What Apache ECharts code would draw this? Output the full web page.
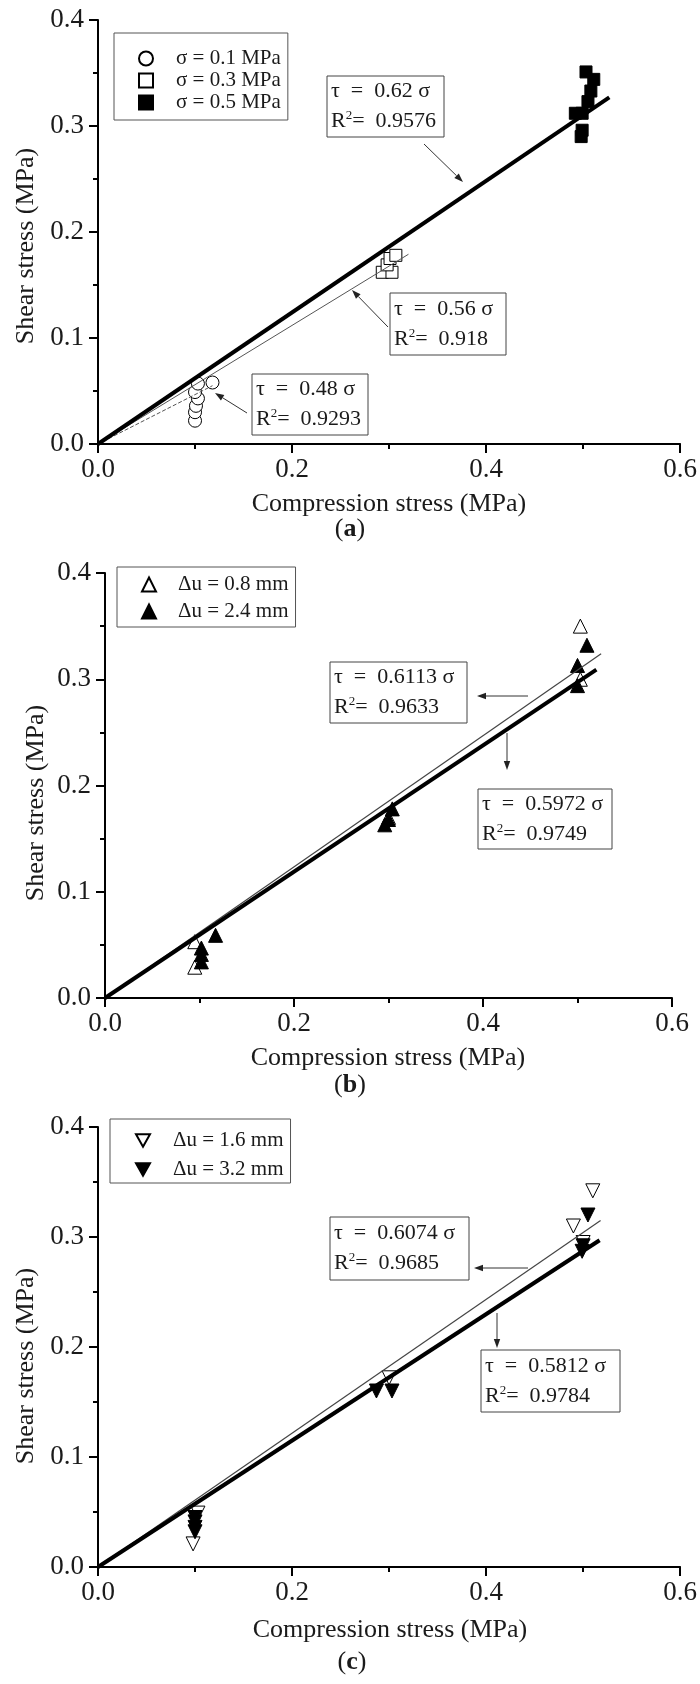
<!DOCTYPE html>
<html><head><meta charset="utf-8">
<script src="https://cdn.jsdelivr.net/npm/echarts@6/dist/echarts.min.js"></script>
<style>html,body{margin:0;padding:0;background:#fff}#c{width:700px;height:1684px}</style>
</head><body><div id="c"></div>
<script>
// ---------- data ----------
const xTickLabels = ['0.0','0.2','0.4','0.6'];
const yTickLabels = ['0.0','0.1','0.2','0.3','0.4'];

// panel (a)
const sigma01 = [[0.1,0.022],[0.1,0.03],[0.101,0.036],[0.103,0.043],[0.1,0.049],[0.103,0.057],[0.118,0.058]];
const sigma03 = [[0.293,0.162],[0.303,0.162],[0.298,0.169],[0.301,0.175],[0.307,0.178]];
const sigma05 = [[0.503,0.351],[0.511,0.344],[0.508,0.333],[0.505,0.323],[0.492,0.312],[0.499,0.312],[0.499,0.296],[0.498,0.29]];
const fitA062 = [[0,0],[0.527,0.327]];
const fitA056 = [[0,0],[0.32,0.179]];
const fitA048 = [[0,0],[0.118,0.055]];

// panel (b)
const du08 = [[0.095,0.029],[0.095,0.053],[0.3,0.17],[0.503,0.3],[0.503,0.35]];
const du24 = [[0.102,0.034],[0.102,0.041],[0.102,0.047],[0.117,0.059],[0.296,0.163],[0.3,0.168],[0.304,0.178],[0.5,0.294],[0.5,0.313],[0.51,0.332]];
const fitB6113 = [[0,0],[0.525,0.324]];
const fitB5972 = [[0,0],[0.52,0.309]];

// panel (c)
const du16 = [[0.098,0.021],[0.103,0.049],[0.3,0.172],[0.49,0.31],[0.5,0.295],[0.51,0.342]];
const du32 = [[0.1,0.032],[0.1,0.036],[0.1,0.041],[0.1,0.045],[0.287,0.16],[0.303,0.16],[0.499,0.287],[0.5,0.292],[0.505,0.32]];
const fitC6074 = [[0,0],[0.518,0.315]];
const fitC5812 = [[0,0],[0.517,0.297]];

// ---------- chart ----------
const SERIF = '"Liberation Serif","Times New Roman",serif';
const TXT = '#1a1a1a';
const downTri = 'path://M0,0 L10,0 L5,9 Z';

function xAx(i){
  return {type:'value', gridIndex:i, min:0, max:0.6, interval:0.2,
    axisLine:{onZero:false, lineStyle:{color:'#000', width:2}},
    axisTick:{show:true, inside:false, length:9, lineStyle:{color:'#000', width:2}},
    minorTick:{show:true, splitNumber:2, length:5, lineStyle:{color:'#000', width:2}},
    splitLine:{show:false}, minorSplitLine:{show:false},
    axisLabel:{fontFamily:SERIF, fontSize:27, color:TXT, margin:12,
      formatter:v=>xTickLabels[Math.round(v/0.2)]}};
}
function yAx(i){
  return {type:'value', gridIndex:i, min:0, max:0.4, interval:0.1,
    axisLine:{onZero:false, lineStyle:{color:'#000', width:2}},
    axisTick:{show:true, inside:false, length:9, lineStyle:{color:'#000', width:2}},
    minorTick:{show:true, splitNumber:2, length:5, lineStyle:{color:'#000', width:2}},
    splitLine:{show:false}, minorSplitLine:{show:false},
    axisLabel:{fontFamily:SERIF, fontSize:27, color:TXT, margin:14,
      formatter:v=>yTickLabels[Math.round(v/0.1)]}};
}
function scat(name, i, data, symbol, size, filled, extra){
  return Object.assign({name, type:'scatter', xAxisIndex:i, yAxisIndex:i, data, symbol, symbolSize:size,
    itemStyle:{color: filled ? '#000' : '#fff', borderColor:'#000', borderWidth:1, opacity:1},
    emphasis:{disabled:true}, z:3}, extra||{});
}
function fit(i, data, width, color, type){
  return {type:'line', xAxisIndex:i, yAxisIndex:i, data, symbol:'none', silent:true,
    lineStyle:{color, width, type:type||'solid'}, z:4};
}
function legend(left, top, names, gap, pad, tpad){
  return {left, top, orient:'vertical', data:names, itemWidth:14, itemHeight:14, itemGap:gap,
    padding:pad, borderColor:'#555', borderWidth:1, backgroundColor:'#fff', selectedMode:false,
    textStyle:{fontFamily:SERIF, fontSize:21, color:TXT, padding:[0,0,0,tpad]}};
}
function eqBox(x, y, w, h, k, r2){
  return {type:'group', x, y, z:10, children:[
    {type:'rect', shape:{x:0,y:0,width:w,height:h}, style:{fill:'#fff', stroke:'#444', lineWidth:1}},
    {type:'text', x:4, y:h/2, style:{
      text:'{a|τ  =  '+k+' σ}\n{a|R}{s|2}{a|=  '+r2+'}',
      verticalAlign:'middle', align:'left',
      rich:{a:{fontFamily:SERIF, fontSize:22, lineHeight:30, fill:TXT},
            s:{fontFamily:SERIF, fontSize:13, lineHeight:30, verticalAlign:'top', padding:[3,0,0,0], fill:TXT}}}}
  ]};
}
function arrow(x1,y1,x2,y2){
  const dx=x2-x1, dy=y2-y1, L=Math.hypot(dx,dy), ux=dx/L, uy=dy/L;
  const hl=9, hw=3.2;
  const bx=x2-ux*hl, by=y2-uy*hl;
  return [
    {type:'line', z:10, shape:{x1,y1,x2:bx,y2:by}, style:{stroke:'#333', lineWidth:1}},
    {type:'polygon', z:10, shape:{points:[[x2,y2],[bx-uy*hw,by+ux*hw],[bx+uy*hw,by-ux*hw]]}, style:{fill:'#222'}}
  ];
}
function txt(x,y,text,size,rot){
  return {type:'text', x, y, rotation:rot||0, z:10, style:{text, fontFamily:SERIF, fontSize:size, fill:TXT, align:'center', verticalAlign:'middle'}};
}
function panelLabel(x,y,letter){
  return {type:'text', x, y, z:10, style:{text:'{n|(}{b|'+letter+'}{n|)}', align:'center', verticalAlign:'middle',
    rich:{n:{fontFamily:SERIF, fontSize:26, fill:TXT}, b:{fontFamily:SERIF, fontSize:26, fontWeight:'bold', fill:TXT}}}};
}

const graphics = [
  eqBox(327,76,117,61,'0.62','0.9576'), ...arrow(424,144,463,182),
  eqBox(390,293,116,62,'0.56','0.918'), ...arrow(388,327,352,290),
  eqBox(252,374,116,61,'0.48','0.9293'), ...arrow(247,413,215,393),
  eqBox(330,662,137,61,'0.6113','0.9633'), ...arrow(528,696,477,696),
  eqBox(478,789,134,60,'0.5972','0.9749'), ...arrow(507,733,507,770),
  eqBox(330,1217,139,63,'0.6074','0.9685'), ...arrow(528,1268,474,1268),
  eqBox(481,1350,139,62,'0.5812','0.9784'), ...arrow(497,1313,497,1348),
  txt(389,504,'Compression stress (MPa)',26), txt(26,246,'Shear stress (MPa)',26,Math.PI/2),
  txt(388,1058,'Compression stress (MPa)',26), txt(36,803,'Shear stress (MPa)',26,Math.PI/2),
  txt(390,1630,'Compression stress (MPa)',26), txt(26,1366,'Shear stress (MPa)',26,Math.PI/2),
  panelLabel(350,529,'a'), panelLabel(350,1085,'b'), panelLabel(352,1662,'c')
];

const chart = echarts.init(document.getElementById('c'), null, {renderer:'canvas'});
chart.setOption({
  animation:false,
  backgroundColor:'#fff',
  grid:[{left:98, top:20, width:583, height:424},
        {left:105, top:573, width:567, height:425},
        {left:98, top:1127, width:584, height:440}],
  xAxis:[xAx(0), xAx(1), xAx(2)],
  yAxis:[yAx(0), yAx(1), yAx(2)],
  legend:[
    legend(114, 33, ['σ = 0.1 MPa','σ = 0.3 MPa','σ = 0.5 MPa'], 1, [15,7,7,24], 18),
    legend(117, 567, ['Δu = 0.8 mm','Δu = 2.4 mm'], 6, [7,7,5,24], 17),
    legend(110, 1119, ['Δu = 1.6 mm','Δu = 3.2 mm'], 8, [11,7,3,25], 18)
  ],
  series:[
    fit(0, fitA048, 1, '#555', [4,2]),
    fit(0, fitA056, 1, '#555'),
    fit(0, fitA062, 4, '#000'),
    scat('σ = 0.1 MPa', 0, sigma01, 'circle', 13, false),
    scat('σ = 0.3 MPa', 0, sigma03, 'rect', 12, false),
    scat('σ = 0.5 MPa', 0, sigma05, 'rect', 12, true),
    fit(1, fitB6113, 1.2, '#444'),
    fit(1, fitB5972, 4, '#000'),
    scat('Δu = 0.8 mm', 1, du08, 'triangle', 14, false),
    scat('Δu = 2.4 mm', 1, du24, 'triangle', 14, true),
    fit(2, fitC6074, 1.2, '#444'),
    fit(2, fitC5812, 4, '#000'),
    scat('Δu = 1.6 mm', 2, du16, downTri, 14, false),
    scat('Δu = 3.2 mm', 2, du32, downTri, 14, true)
  ],
  graphic: graphics
});
</script>
</body></html>
